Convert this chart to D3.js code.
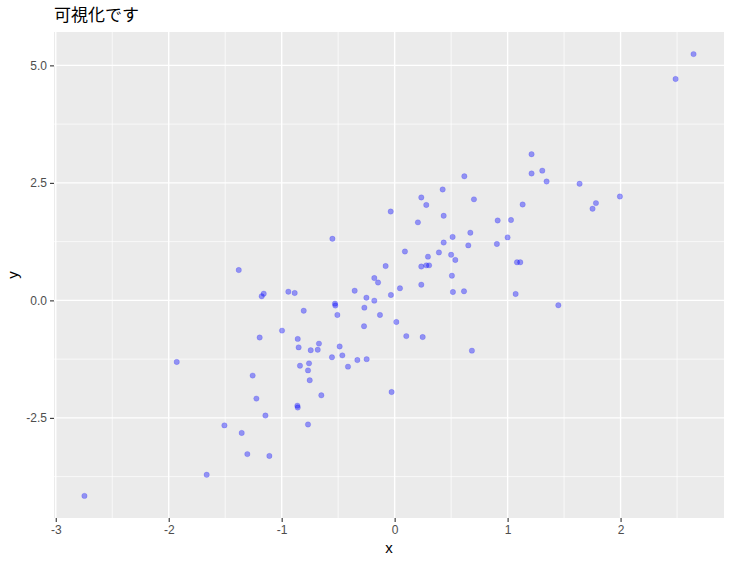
<!DOCTYPE html>
<html>
<head>
<meta charset="utf-8">
<script src="https://cdn.jsdelivr.net/npm/d3@7"></script>
<style>
  body { margin: 0; background: #fff; }
  text { font-family: "Liberation Sans", "Noto Sans CJK JP", sans-serif; }
</style>
</head>
<body>
<script>
// points
var xs = [-1.38,
  -0.551, -0.035, 0.236, 0.28, 0.425, 0.617, 0.702, 0.434, 0.206, 0.912,
  0.67, 0.513, 0.434, 0.652, 0.905, 1.0, 0.091, 0.392, 0.50, 0.537,
  0.295, 0.28, 0.305, 0.236, -0.08, 0.507,
  2.646, 2.487, 1.212, 1.212, 1.307, 1.345, 1.637, 1.994, 1.782, 1.752,
  1.133, 1.03, 1.083, 1.112,
  -1.159, -1.177, -0.997, -1.195, -1.929, -1.257, -1.224, -1.144, -1.507, -1.354,
  -1.304, -1.109, -1.664, -2.746,
  -0.18, -0.147, -0.941, -0.885, -0.354, -0.25, -0.18, -0.033, 0.047, 0.236,
  0.516, 0.614, -0.528, -0.525, -0.805, -0.268, -0.507, -0.13, -0.271, 0.015,
  0.103, 0.248, 0.684, -0.858, -0.85, -0.743, -0.681, -0.67, -0.487, -0.463,
  -0.555, -0.33, -0.248, -0.413, -0.838, -0.758, -0.767, -0.752, -0.649, -0.027,
  -0.861, -0.858, -0.767,
  1.071, 1.449]
var ys = [0.645,
  1.31, 1.89, 2.19, 2.03, 2.36, 2.64, 2.15, 1.80, 1.66, 1.70,
  1.44, 1.35, 1.23, 1.17, 1.20, 1.34, 1.04, 1.02, 0.97, 0.86,
  0.93, 0.745, 0.745, 0.72, 0.73, 0.525,
  5.24, 4.71, 3.11, 2.70, 2.76, 2.53, 2.48, 2.21, 2.07, 1.95,
  2.04, 1.71, 0.81, 0.81,
  0.142, 0.087, -0.643, -0.79, -1.31, -1.60, -2.09, -2.45, -2.66, -2.82,
  -3.27, -3.31, -3.71, -4.16,
  0.475, 0.38, 0.185, 0.157, 0.206, 0.057, -0.006, 0.115, 0.257, 0.334,
  0.178, 0.193, -0.07, -0.11, -0.22, -0.155, -0.31, -0.31, -0.55, -0.46,
  -0.76, -0.78, -1.07, -0.82, -1.00, -1.06, -1.05, -0.92, -0.98, -1.17,
  -1.21, -1.27, -1.25, -1.41, -1.39, -1.34, -1.49, -1.70, -2.02, -1.95,
  -2.24, -2.28, -2.64,
  0.136, -0.104]

var xMajor = [-3, -2, -1, 0, 1, 2]
var xMinor = [-2.5, -1.5, -0.5, 0.5, 1.5, 2.5]
var yMajor = [-2.5, 0, 2.5, 5]
var yMinor = [-3.75, -1.25, 1.25, 3.75]

var title = "可視化です"

var width = 732, height = 562
var panel = { left: 54, right: 724, top: 32, bottom: 518 }

var points = xs.map(function(d, i) { return { x: d, y: ys[i] } })

// ggplot style 5% expansion
function expand(ext) {
  var pad = (ext[1] - ext[0]) * 0.05
  return [ext[0] - pad, ext[1] + pad]
}

var x = d3.scaleLinear().domain(expand(d3.extent(xs))).range([panel.left, panel.right])
var y = d3.scaleLinear().domain(expand(d3.extent(ys))).range([panel.bottom, panel.top])

var svg = d3.select("body").append("svg")
  .attr("width", width)
  .attr("height", height)

svg.append("rect")
  .attr("x", panel.left).attr("y", panel.top)
  .attr("width", panel.right - panel.left).attr("height", panel.bottom - panel.top)
  .attr("fill", "#ebebeb")

var grid = svg.append("g")

grid.selectAll(".xminor").data(xMinor).enter().append("line")
  .attr("x1", function(d) { return x(d) }).attr("x2", function(d) { return x(d) })
  .attr("y1", panel.top).attr("y2", panel.bottom)
  .attr("stroke", "#fff").attr("stroke-width", 0.7)

grid.selectAll(".yminor").data(yMinor).enter().append("line")
  .attr("y1", function(d) { return y(d) }).attr("y2", function(d) { return y(d) })
  .attr("x1", panel.left).attr("x2", panel.right)
  .attr("stroke", "#fff").attr("stroke-width", 0.7)

grid.selectAll(".xmajor").data(xMajor).enter().append("line")
  .attr("x1", function(d) { return x(d) }).attr("x2", function(d) { return x(d) })
  .attr("y1", panel.top).attr("y2", panel.bottom)
  .attr("stroke", "#fff").attr("stroke-width", 1.4)

grid.selectAll(".ymajor").data(yMajor).enter().append("line")
  .attr("y1", function(d) { return y(d) }).attr("y2", function(d) { return y(d) })
  .attr("x1", panel.left).attr("x2", panel.right)
  .attr("stroke", "#fff").attr("stroke-width", 1.4)

svg.append("g").selectAll("circle")
  .data(points)
  .enter().append("circle")
  .attr("cx", function(d) { return x(d.x) })
  .attr("cy", function(d) { return y(d.y) })
  .attr("r", 2.7)
  .attr("fill", "blue")
  .attr("fill-opacity", 0.38)
  .attr("stroke", "blue")
  .attr("stroke-opacity", 0.3)
  .attr("stroke-width", 0.5)

var fmtX = function(d) { return String(d) }
var fmtY = function(d) { return d.toFixed(1) }

svg.append("g")
  .attr("transform", "translate(0," + panel.bottom + ")")
  .call(d3.axisBottom(x).tickValues(xMajor).tickFormat(fmtX).tickSizeOuter(0).tickSize(4).tickPadding(3))

svg.append("g")
  .attr("transform", "translate(" + panel.left + ",0)")
  .call(d3.axisLeft(y).tickValues(yMajor).tickFormat(fmtY).tickSizeOuter(0).tickSize(4).tickPadding(3))

svg.selectAll(".domain").remove()
svg.selectAll(".tick line").attr("stroke", "#333").attr("stroke-width", 1.1)
svg.selectAll(".tick text")
  .attr("fill", "#4d4d4d")
  .style("font-family", "'Liberation Sans', sans-serif")
  .style("font-size", "12px")

svg.append("text")
  .attr("x", (panel.left + panel.right) / 2)
  .attr("y", 553)
  .attr("text-anchor", "middle")
  .style("font-size", "15px")
  .attr("fill", "#000")
  .text("x")

svg.append("text")
  .attr("transform", "translate(18," + ((panel.top + panel.bottom) / 2) + ") rotate(-90)")
  .attr("text-anchor", "middle")
  .style("font-size", "15px")
  .attr("fill", "#000")
  .text("y")

svg.append("text")
  .attr("x", panel.left)
  .attr("y", 21)
  .style("font-family", "'Noto Sans CJK JP', sans-serif")
  .style("font-size", "17px")
  .attr("fill", "#000")
  .text(title)
</script>
</body>
</html>
